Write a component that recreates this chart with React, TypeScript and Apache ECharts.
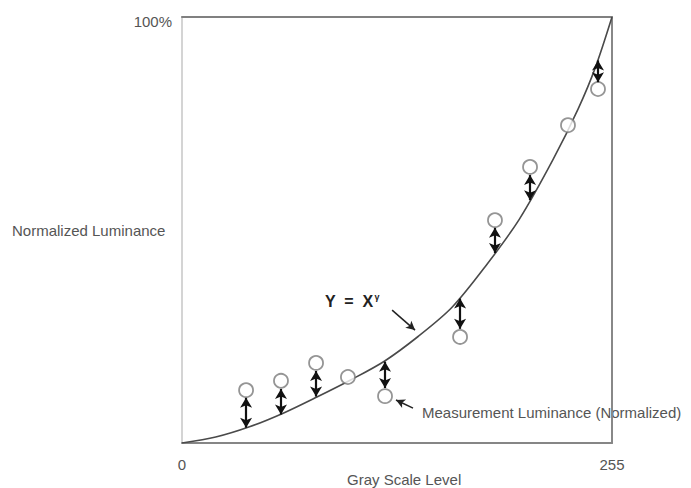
import React, { useEffect, useRef } from "react";
import * as echarts from "echarts";

// Reference curve Y = X^gamma
const curveX = [0, 20, 40, 60, 80, 100, 120, 140, 160, 180, 200, 220, 235, 245, 255];
const curveY = [0, 1.4, 3.8, 7.0, 10.8, 14.8, 19.2, 25.0, 31.8, 41.5, 52.5, 66.5, 78.5, 88.0, 100];

// Measured (normalized) luminance points
const measX = [38.0, 58.7, 79.5, 98.4, 120.4, 164.9, 185.6, 206.4, 228.9, 246.7];
const measY = [12.4, 14.6, 18.8, 15.5, 11.0, 24.9, 52.3, 64.8, 74.6, 83.1];

// Double-headed error arrows: x, end near circle, end on curve
const arrowX = [38.0, 58.7, 79.5, 120.4, 164.9, 185.6, 206.4, 246.7];
const arrowFrom = [10.6, 12.7, 16.9, 12.9, 26.8, 50.5, 62.9, 84.7];
const arrowTo = [3.6, 6.7, 10.9, 19.1, 33.9, 44.6, 57.0, 89.8];

// Annotation pointer arrows [x0, y0, x1, y1]
const gammaPointer = [124.6, 31.2, 138.2, 26.5];
const measPointer = [137.0, 8.2, 126.9, 10.1];

const xTicks = [0, 255];
const yTopLabel = "100%";

const FONT = "'Liberation Sans', Arial, sans-serif";
const TXT = "#555";

export default function App() {
  const ref = useRef<HTMLDivElement>(null);
  useEffect(() => {
    if (!ref.current) return;
    const chart = echarts.init(ref.current, undefined, { renderer: "svg" });
    const curve = curveX.map((x, i) => [x, curveY[i]]);
    const meas = measX.map((x, i) => [x, measY[i]]);
    const errArrows = arrowX.map((x, i) => [
      { coord: [x, arrowFrom[i]] },
      { coord: [x, arrowTo[i]] },
    ]);
    const ptr = (p: number[]) => [{ coord: [p[0], p[1]] }, { coord: [p[2], p[3]] }];

    chart.setOption({
      animation: false,
      backgroundColor: "#fff",
      grid: { left: 182, top: 17, right: 79, bottom: 45, outerBoundsMode: "none", containLabel: false },
      xAxis: [
        {
          type: "value",
          min: xTicks[0],
          max: xTicks[1],
          interval: 255,
          axisLine: { show: true, lineStyle: { color: "#868686", width: 2 } },
          axisTick: { show: false },
          splitLine: { show: false },
          axisLabel: { color: TXT, fontSize: 15, fontFamily: FONT, margin: 14 },
        },
        {
          type: "value",
          position: "top",
          min: 0,
          max: 255,
          axisLine: { show: true, onZero: false, lineStyle: { color: "#808080", width: 2 } },
          axisTick: { show: false },
          axisLabel: { show: false },
          splitLine: { show: false },
        },
      ],
      yAxis: [
        {
          type: "value",
          min: 0,
          max: 100,
          interval: 100,
          axisLine: { show: true, lineStyle: { color: "#d4d4d4", width: 2 } },
          axisTick: { show: false },
          splitLine: { show: false },
          axisLabel: {
            color: TXT,
            fontSize: 15,
            fontFamily: FONT,
            margin: 10,
            verticalAlign: "top",
            lineHeight: 9,
            formatter: (v: number) => (v === 100 ? yTopLabel : ""),
          },
        },
        {
          type: "value",
          position: "right",
          min: 0,
          max: 100,
          axisLine: { show: true, onZero: false, lineStyle: { color: "#888", width: 2 } },
          axisTick: { show: false },
          axisLabel: { show: false },
          splitLine: { show: false },
        },
      ],
      series: [
        {
          type: "line",
          data: curve,
          smooth: 0.3,
          showSymbol: false,
          symbol: "none",
          silent: true,
          lineStyle: { color: "#4a4a4a", width: 1.6 },
          z: 2,
        },
        {
          type: "scatter",
          data: meas,
          symbol: "circle",
          symbolSize: 14,
          silent: true,
          itemStyle: { color: "#fff", borderColor: "#7a7a7a", borderWidth: 1.8 },
          z: 4,
          markLine: {
            silent: true,
            symbol: ["arrow", "arrow"],
            symbolSize: [9, 10],
            label: { show: false },
            lineStyle: { color: "#111", width: 2.2, type: "solid" },
            data: errArrows,
          },
        },
        {
          type: "line",
          data: [],
          silent: true,
          markLine: {
            silent: true,
            symbol: ["none", "arrow"],
            symbolSize: [7, 9],
            label: { show: false },
            lineStyle: { color: "#222", width: 1.5, type: "solid" },
            data: [ptr(gammaPointer), ptr(measPointer)],
          },
          z: 3,
        },
      ],
      graphic: [
        {
          type: "text",
          left: 12,
          top: 223,
          style: { text: "Normalized Luminance", fill: TXT, font: `15px ${FONT}` },
        },
        {
          type: "text",
          left: 347,
          top: 472,
          style: { text: "Gray Scale Level", fill: TXT, font: `15px ${FONT}` },
        },
        {
          type: "text",
          left: 325,
          top: 292,
          style: {
            text: "Y  =  X{s|γ}",
            fill: "#222",
            font: `bold 16px ${FONT}`,
            rich: { s: { fontSize: 9, fontWeight: "bold", fill: "#222", verticalAlign: "top", padding: [0, 0, 10, 1] } },
          },
        },
        {
          type: "text",
          left: 422,
          top: 405,
          style: {
            text: "Measurement Luminance (Normalized)",
            fill: TXT,
            font: `15px ${FONT}`,
          },
        },
      ],
    });
    return () => chart.dispose();
  }, []);
  return (
    <div
      ref={ref}
      style={{ position: "fixed", left: 0, top: 0, width: 691, height: 488, background: "#fff" }}
    />
  );
}
